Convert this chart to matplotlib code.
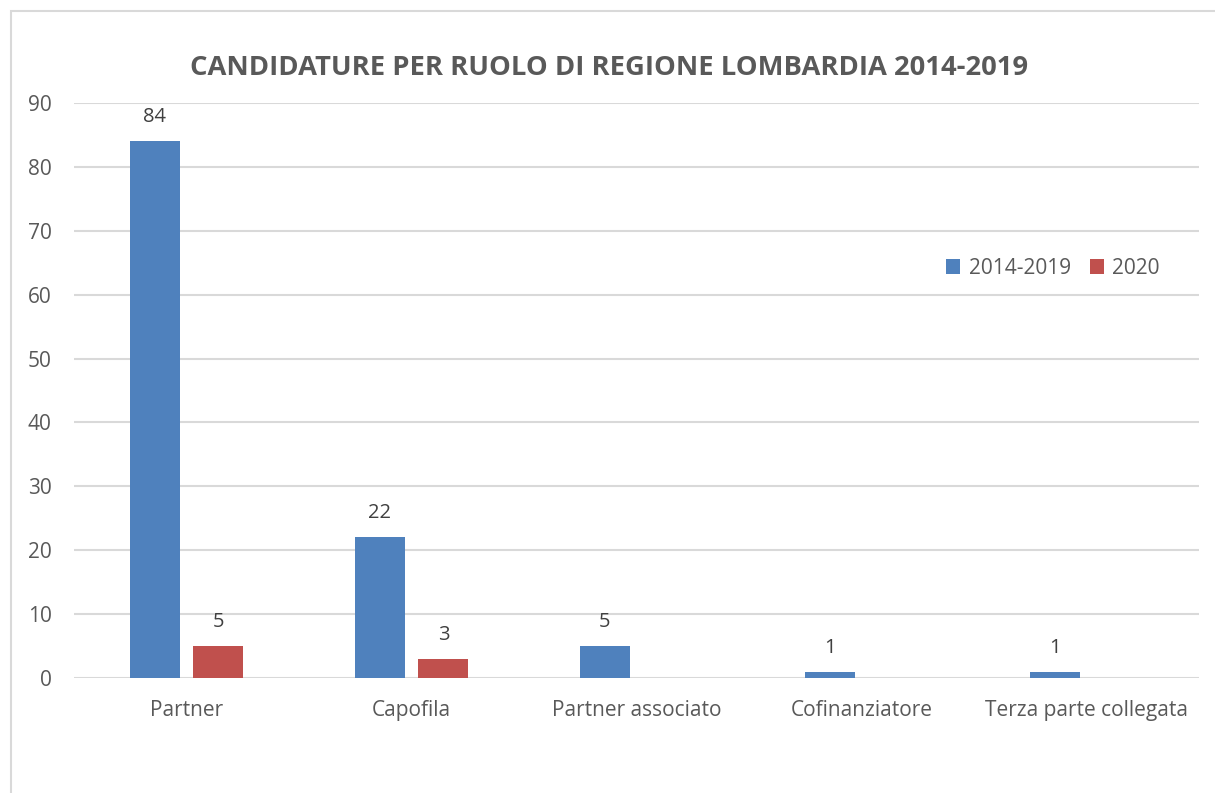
import numpy as np
import matplotlib.pyplot as plt
from matplotlib.patches import Rectangle

# Data
categories = ["Partner", "Capofila", "Partner associato", "Cofinanziatore", "Terza parte collegata"]
serie_2014_2019 = [84, 22, 5, 1, 1]
serie_2020 = [5, 3, None, None, None]
series_names = ["2014-2019", "2020"]
y_ticks = [0, 10, 20, 30, 40, 50, 60, 70, 80, 90]

plt.rcParams['font.family'] = ['Open Sans', 'DejaVu Sans']

fig = plt.figure(figsize=(12.15, 7.93), dpi=100)
ax = fig.add_axes([74 / 1215, 1 - 678 / 793, 1125 / 1215, 575 / 793])

# chart border (Excel-like frame)
fig.patches.append(Rectangle((11 / 1215, -0.05), 1.1, 1 - 11 / 793 + 0.05,
                             transform=fig.transFigure, fill=False,
                             edgecolor="#D9D9D9", linewidth=1.5))

x = np.arange(len(categories))
w = 0.222
off = 0.142

blue = "#4F81BD"
red = "#C0504D"

ax.bar(x - off, serie_2014_2019, w, color=blue, label=series_names[0], zorder=3)
vals2 = [v if v is not None else 0 for v in serie_2020]
ax.bar(x + off, vals2, w, color=red, label=series_names[1], zorder=3)

for xi, v in zip(x, serie_2014_2019):
    ax.text(xi - off, v + 2.2, str(v), ha="center", va="bottom", fontsize=14.5, color="#404040")
for xi, v in zip(x, serie_2020):
    if v is not None:
        ax.text(xi + off, v + 2.2, str(v), ha="center", va="bottom", fontsize=14.5, color="#404040")

ax.set_xlim(-0.5, len(categories) - 0.5)
ax.set_ylim(0, 90)
ax.set_yticks(y_ticks)
ax.set_xticks(x)
ax.set_xticklabels(categories)
ax.tick_params(axis="both", length=0, labelsize=15, labelcolor="#595959")
ax.tick_params(axis="x", pad=16)
ax.tick_params(axis="y", pad=16)
ax.grid(axis="y", color="#D9D9D9", linewidth=1.5, zorder=0)
for s in ax.spines.values():
    s.set_visible(False)

fig.text(609 / 1215, 1 - 68 / 793, "CANDIDATURE PER RUOLO DI REGIONE LOMBARDIA 2014-2019",
         ha="center", va="center", fontsize=19.7, fontweight="bold", color="#595959")

ax.legend(loc="center left", bbox_to_anchor=(853 / 1125, (678 - 268) / 575),
          frameon=False, fontsize=15, labelcolor="#595959", ncol=2,
          handlelength=0.7, handleheight=0.7, handletextpad=0.4, columnspacing=0.9)

fig.savefig("out.png", dpi=100)
